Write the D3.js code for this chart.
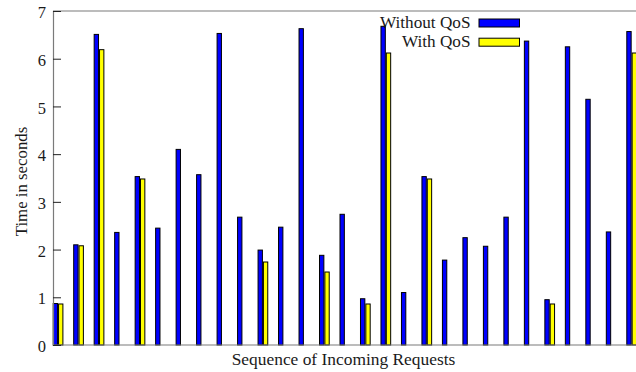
<!DOCTYPE html>
<html>
<head>
<meta charset="utf-8">
<script src="https://cdn.jsdelivr.net/npm/d3@7"></script>
<style>
  body { margin: 0; background: #fff; }
  svg { display: block; }
</style>
</head>
<body>
<svg id="chart" width="636" height="372"></svg>
<script>
// ---- data ----
const requests = d3.range(1, 30); // 29 incoming requests
const withoutQoS = [0.88, 2.11, 6.52, 2.37, 3.54, 2.46, 4.11, 3.58, 6.54, 2.69,
                    2.00, 2.48, 6.64, 1.89, 2.75, 0.98, 6.69, 1.11, 3.54, 1.79,
                    2.26, 2.08, 2.69, 6.38, 0.96, 6.26, 5.16, 2.38, 6.58];
const withQoS    = [0.87, 2.09, 6.20, 0,    3.49, 0,    0,    0,    0,    0,
                    1.75, 0,    0,    1.54, 0,    0.87, 6.13, 0,    3.49, 0,
                    0,    0,    0,    0,    0.87, 0,    0,    0,    6.13];
const seriesNames = ["Without QoS", "With QoS"];
const seriesColors = ["#0000ff", "#ffff00"];
const yTicks = [0, 1, 2, 3, 4, 5, 6, 7];

// ---- layout ----
const FONT = "'Liberation Serif', 'Times New Roman', Times, serif";
const svg = d3.select("#chart");
const mLeft = 53, mTop = 11, mBottom = 345, mRight = 636;

const x = d3.scaleLinear().domain([1, 29]).range([52.7, 626.3]);
const sub = d3.scaleBand().domain(seriesNames).range([0, 10.7]);
const y = d3.scaleLinear().domain([0, 7]).range([mBottom, mTop]);

const rows = requests.map((r, i) => ({ r, vals: [withoutQoS[i], withQoS[i]] }));

// bars
const g = svg.append("g");
rows.forEach(d => {
  d.vals.forEach((v, k) => {
    if (!v) return;
    g.append("rect")
      .attr("x", x(d.r) + sub(seriesNames[k]) + 0.5)
      .attr("y", y(v) + 0.5)
      .attr("width", sub.bandwidth() - 1)
      .attr("height", y(0) - y(v) - 0.5)
      .attr("fill", seriesColors[k])
      .attr("stroke", "#000")
      .attr("stroke-width", 1);
  });
});

// frame lines
svg.append("line").attr("x1", mLeft).attr("x2", mRight).attr("y1", mTop).attr("y2", mTop)
  .attr("stroke", "#7a7a7a").attr("stroke-width", 1.2);
svg.append("line").attr("x1", mLeft).attr("x2", mRight).attr("y1", mBottom).attr("y2", mBottom)
  .attr("stroke", "#7a7a7a").attr("stroke-width", 1.2);

// y axis
const yAxis = d3.axisLeft(y).tickValues(yTicks).tickSize(-8).tickPadding(7).tickFormat(d3.format("d"));
const ya = svg.append("g").attr("transform", `translate(${mLeft},0)`).call(yAxis)
  .attr("font-family", null);
ya.select(".domain").attr("stroke", "#7a7a7a").attr("stroke-width", 1.2);
ya.selectAll(".tick line").attr("stroke", "#222");
ya.selectAll(".tick text").style("font-family", FONT)
  .style("font-size", "16.5px").attr("fill", "#1a1a1a").attr("dy", "0.4em");

// axis titles
svg.append("text").attr("x", 343.5).attr("y", 365).attr("text-anchor", "middle")
  .style("font-family", FONT).style("font-size", "17.4px").attr("fill", "#1a1a1a")
  .text("Sequence of Incoming Requests");
svg.append("text").attr("transform", "translate(26.5,181.5) rotate(-90)").attr("text-anchor", "middle")
  .style("font-family", FONT).style("font-size", "16.8px").attr("fill", "#1a1a1a")
  .text("Time in seconds");

// legend
seriesNames.forEach((name, k) => {
  const ly = 19 + k * 19.2;
  svg.append("text").attr("x", 470.5).attr("y", ly + 9).attr("text-anchor", "end")
    .style("font-family", FONT).style("font-size", "17.2px").attr("fill", "#1a1a1a").text(name);
  svg.append("rect").attr("x", 479).attr("y", ly).attr("width", 40.5).attr("height", 8)
    .attr("fill", seriesColors[k]).attr("stroke", "#000").attr("stroke-width", 1);
});
</script>
</body>
</html>
